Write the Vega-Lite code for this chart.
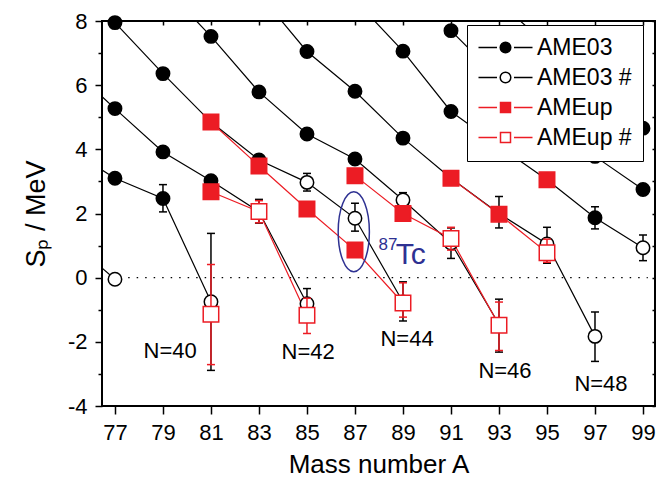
{
  "$schema": "https://vega.github.io/schema/vega-lite/v6.json",
  "autosize": {"type": "none"},
  "width": 553,
  "height": 385,
  "padding": {"left": 102, "top": 21, "right": 2, "bottom": 72},
  "background": "white",
  "config": {
    "view": {"stroke": "black", "strokeWidth": 2},
    "axis": {"grid": false, "labelFont": "Liberation Sans", "titleFont": "Liberation Sans", "tickColor": "black", "labelColor": "black", "titleColor": "black", "tickWidth": 1.5, "domain": false, "labelOverlap": false, "titleFontWeight": "normal"},
    "legend": {"labelFont": "Liberation Sans"}
  },
  "datasets": {
    "pts": [
      {"A": 75, "Sp": 1.25, "N": 38, "src": "AME03", "cat": "AME03 #", "off": 1},
      {"A": 75, "Sp": 4.05, "N": 40, "src": "AME03", "cat": "AME03", "off": 1},
      {"A": 75, "Sp": 6.65, "N": 42, "src": "AME03", "cat": "AME03", "off": 1},
      {"A": 79, "Sp": 9.1, "N": 46, "src": "AME03", "cat": "AME03", "off": 1},
      {"A": 83, "Sp": 8.85, "N": 48, "src": "AME03", "cat": "AME03", "off": 1},
      {"A": 87, "Sp": 8.65, "N": 50, "src": "AME03", "cat": "AME03", "off": 1},
      {"A": 93, "Sp": 8.6, "N": 54, "src": "AME03", "cat": "AME03", "off": 1},
      {"A": 77, "Sp": 7.95, "N": 44, "src": "AME03", "cat": "AME03"},
      {"A": 77, "Sp": 5.27, "N": 42, "src": "AME03", "cat": "AME03"},
      {"A": 77, "Sp": 3.1, "N": 40, "src": "AME03", "cat": "AME03"},
      {"A": 77, "Sp": -0.05, "N": 38, "src": "AME03", "cat": "AME03 #", "lo": -0.2, "hi": 0.1},
      {"A": 79, "Sp": 6.36, "N": 44, "src": "AME03", "cat": "AME03"},
      {"A": 79, "Sp": 3.92, "N": 42, "src": "AME03", "cat": "AME03"},
      {"A": 79, "Sp": 2.47, "N": 40, "src": "AME03", "cat": "AME03", "lo": 2.05, "hi": 2.9},
      {"A": 81, "Sp": 7.52, "N": 46, "src": "AME03", "cat": "AME03"},
      {"A": 81, "Sp": 4.85, "N": 44, "src": "AME03", "cat": "AME03"},
      {"A": 81, "Sp": 3.02, "N": 42, "src": "AME03", "cat": "AME03"},
      {"A": 81, "Sp": -0.75, "N": 40, "src": "AME03", "cat": "AME03 #", "lo": -2.89, "hi": 1.38},
      {"A": 83, "Sp": 5.79, "N": 46, "src": "AME03", "cat": "AME03"},
      {"A": 83, "Sp": 3.67, "N": 44, "src": "AME03", "cat": "AME03"},
      {"A": 83, "Sp": 2.06, "N": 42, "src": "AME03", "cat": "AME03 #", "lo": 1.7, "hi": 2.44},
      {"A": 85, "Sp": 7.05, "N": 48, "src": "AME03", "cat": "AME03"},
      {"A": 85, "Sp": 4.48, "N": 46, "src": "AME03", "cat": "AME03"},
      {"A": 85, "Sp": 2.97, "N": 44, "src": "AME03", "cat": "AME03 #", "lo": 2.7, "hi": 3.25},
      {"A": 85, "Sp": -0.81, "N": 42, "src": "AME03", "cat": "AME03 #", "lo": -1.28, "hi": -0.34},
      {"A": 87, "Sp": 5.81, "N": 48, "src": "AME03", "cat": "AME03"},
      {"A": 87, "Sp": 3.7, "N": 46, "src": "AME03", "cat": "AME03"},
      {"A": 87, "Sp": 1.85, "N": 44, "src": "AME03", "cat": "AME03 #", "lo": 1.45, "hi": 2.32},
      {"A": 89, "Sp": 7.06, "N": 50, "src": "AME03", "cat": "AME03"},
      {"A": 89, "Sp": 4.35, "N": 48, "src": "AME03", "cat": "AME03"},
      {"A": 89, "Sp": 2.42, "N": 46, "src": "AME03", "cat": "AME03 #", "lo": 2.2, "hi": 2.65},
      {"A": 89, "Sp": -0.76, "N": 44, "src": "AME03", "cat": "AME03 #", "lo": -1.35, "hi": -0.13},
      {"A": 91, "Sp": 7.7, "N": 52, "src": "AME03", "cat": "AME03"},
      {"A": 91, "Sp": 5.18, "N": 50, "src": "AME03", "cat": "AME03"},
      {"A": 91, "Sp": 3.1, "N": 48, "src": "AME03", "cat": "AME03"},
      {"A": 91, "Sp": 1.08, "N": 46, "src": "AME03", "cat": "AME03 #", "lo": 0.6, "hi": 1.55},
      {"A": 93, "Sp": 6.2, "N": 52, "src": "AME03", "cat": "AME03"},
      {"A": 93, "Sp": 4.1, "N": 50, "src": "AME03", "cat": "AME03"},
      {"A": 93, "Sp": 2.0, "N": 48, "src": "AME03", "cat": "AME03", "lo": 1.55, "hi": 2.53},
      {"A": 93, "Sp": -1.45, "N": 46, "src": "AME03", "cat": "AME03 #", "lo": -2.32, "hi": -0.67},
      {"A": 95, "Sp": 7.25, "N": 54, "src": "AME03", "cat": "AME03"},
      {"A": 95, "Sp": 5.0, "N": 52, "src": "AME03", "cat": "AME03"},
      {"A": 95, "Sp": 3.05, "N": 50, "src": "AME03", "cat": "AME03"},
      {"A": 95, "Sp": 1.05, "N": 48, "src": "AME03", "cat": "AME03 #", "lo": 0.45, "hi": 1.57},
      {"A": 97, "Sp": 5.95, "N": 54, "src": "AME03", "cat": "AME03"},
      {"A": 97, "Sp": 3.78, "N": 52, "src": "AME03", "cat": "AME03"},
      {"A": 97, "Sp": 1.87, "N": 50, "src": "AME03", "cat": "AME03", "lo": 1.52, "hi": 2.21},
      {"A": 97, "Sp": -1.83, "N": 48, "src": "AME03", "cat": "AME03 #", "lo": -2.61, "hi": -1.07},
      {"A": 99, "Sp": 4.66, "N": 54, "src": "AME03", "cat": "AME03"},
      {"A": 99, "Sp": 2.75, "N": 52, "src": "AME03", "cat": "AME03"},
      {"A": 99, "Sp": 0.93, "N": 50, "src": "AME03", "cat": "AME03 #", "lo": 0.53, "hi": 1.33},
      {"A": 81, "Sp": 4.85, "N": 44, "src": "AMEup", "cat": "AMEup"},
      {"A": 81, "Sp": 2.68, "N": 42, "src": "AMEup", "cat": "AMEup"},
      {"A": 81, "Sp": -1.14, "N": 40, "src": "AMEup", "cat": "AMEup #", "lo": -2.71, "hi": 0.41},
      {"A": 83, "Sp": 3.48, "N": 44, "src": "AMEup", "cat": "AMEup"},
      {"A": 83, "Sp": 2.06, "N": 42, "src": "AMEup", "cat": "AMEup #", "lo": 1.71, "hi": 2.4},
      {"A": 85, "Sp": 2.14, "N": 44, "src": "AMEup", "cat": "AMEup"},
      {"A": 85, "Sp": -1.17, "N": 42, "src": "AMEup", "cat": "AMEup #", "lo": -1.74, "hi": -0.64},
      {"A": 87, "Sp": 3.18, "N": 46, "src": "AMEup", "cat": "AMEup"},
      {"A": 87, "Sp": 0.86, "N": 44, "src": "AMEup", "cat": "AMEup"},
      {"A": 89, "Sp": 2.0, "N": 46, "src": "AMEup", "cat": "AMEup"},
      {"A": 89, "Sp": -0.79, "N": 44, "src": "AMEup", "cat": "AMEup #", "lo": -1.23, "hi": -0.16},
      {"A": 91, "Sp": 3.1, "N": 48, "src": "AMEup", "cat": "AMEup"},
      {"A": 91, "Sp": 1.22, "N": 46, "src": "AMEup", "cat": "AMEup #", "lo": 0.86, "hi": 1.57},
      {"A": 93, "Sp": 1.98, "N": 48, "src": "AMEup", "cat": "AMEup"},
      {"A": 93, "Sp": -1.48, "N": 46, "src": "AMEup", "cat": "AMEup #", "lo": -2.27, "hi": -0.76},
      {"A": 95, "Sp": 3.05, "N": 50, "src": "AMEup", "cat": "AMEup"},
      {"A": 95, "Sp": 0.78, "N": 48, "src": "AMEup", "cat": "AMEup #", "lo": 0.48, "hi": 1.2}
    ],
    "zero": [{"A": 77.55, "A2": 99.2, "Sp": 0}],
    "lbl": [
      {"A": 79.3, "Sp": -2.28, "t": "N=40"},
      {"A": 85.05, "Sp": -2.32, "t": "N=42"},
      {"A": 89.17, "Sp": -1.9, "t": "N=44"},
      {"A": 93.25, "Sp": -2.92, "t": "N=46"},
      {"A": 97.25, "Sp": -3.3, "t": "N=48"}
    ],
    "tc": [
      {"A": 87.98, "Sp": 0.86, "t": "87"},
      {"A": 88.7, "Sp": 0.44, "t": "Tc"}
    ],
    "ell": [{"A": 86.95, "Sp": 1.43}]
  },
  "resolve": {"axis": {"x": "independent", "y": "independent"}},
  "layer": [
    {
      "data": {"name": "zero"},
      "mark": {"type": "rule", "color": "black", "strokeWidth": 1.4, "strokeDash": [1.5, 7]},
      "encoding": {
        "x": {"field": "A", "type": "quantitative", "scale": {"domain": [76.46, 99.5], "nice": false, "zero": false}, "axis": null},
        "x2": {"field": "A2"},
        "y": {"field": "Sp", "type": "quantitative", "scale": {"domain": [-4, 8], "nice": false, "zero": false}, "axis": null}
      }
    },
    {
      "data": {"name": "pts"},
      "transform": [{"filter": "datum.src == 'AME03'"}],
      "mark": {"type": "line", "color": "black", "strokeWidth": 1.2, "clip": true},
      "encoding": {
        "x": {"field": "A", "type": "quantitative", "scale": {"domain": [76.46, 99.5], "nice": false, "zero": false},
          "axis": {"orient": "bottom", "values": [77, 79, 81, 83, 85, 87, 89, 91, 93, 95, 97, 99], "tickSize": 8, "labelFontSize": 22, "labelPadding": 8, "title": "Mass number A", "titleFontSize": 26, "titlePadding": 8, "labelFlush": false}},
        "y": {"field": "Sp", "type": "quantitative", "scale": {"domain": [-4, 8], "nice": false, "zero": false},
          "axis": {"orient": "left", "values": [-4, -2, 0, 2, 4, 6, 8], "tickSize": 7, "labelFontSize": 22, "labelPadding": 8, "labelExpr": "datum.value < 0 ? '-' + abs(datum.value) : '' + datum.value", "title": "Sₚ / MeV", "titleFontSize": 27, "titlePadding": 17}},
        "detail": {"field": "N", "type": "nominal"}
      }
    },
    {
      "data": {"name": "pts"},
      "transform": [{"filter": "datum.src == 'AMEup'"}],
      "mark": {"type": "line", "color": "#ec1c24", "strokeWidth": 1.2, "clip": true},
      "encoding": {
        "x": {"field": "A", "type": "quantitative", "scale": {"domain": [76.46, 99.5], "nice": false, "zero": false},
          "axis": {"orient": "top", "values": [77, 79, 81, 83, 85, 87, 89, 91, 93, 95, 97, 99], "tickSize": -4, "labels": false, "title": null}},
        "y": {"field": "Sp", "type": "quantitative", "scale": {"domain": [-4, 8], "nice": false, "zero": false},
          "axis": {"orient": "right", "values": [-4, -3, -2, -1, 0, 1, 2, 3, 4, 5, 6, 7, 8], "tickSize": -3, "labels": false, "title": null}},
        "detail": {"field": "N", "type": "nominal"}
      }
    },
    {
      "data": {"name": "pts"},
      "transform": [{"filter": "datum.src == 'AME03' && isValid(datum.lo)"}],
      "mark": {"type": "rule", "color": "black", "strokeWidth": 1.5},
      "encoding": {
        "x": {"field": "A", "type": "quantitative", "scale": {"domain": [76.46, 99.5], "nice": false, "zero": false}, "axis": null},
        "y": {"field": "lo", "type": "quantitative", "scale": {"domain": [-4, 8], "nice": false, "zero": false}, "axis": null},
        "y2": {"field": "hi"}
      }
    },
    {
      "data": {"name": "pts"},
      "transform": [{"filter": "datum.src == 'AME03' && isValid(datum.lo)"}],
      "mark": {"type": "tick", "orient": "horizontal", "color": "black", "size": 8, "thickness": 1.5, "opacity": 1},
      "encoding": {
        "x": {"field": "A", "type": "quantitative", "scale": {"domain": [76.46, 99.5], "nice": false, "zero": false}, "axis": null},
        "y": {"field": "lo", "type": "quantitative", "scale": {"domain": [-4, 8], "nice": false, "zero": false}, "axis": null}
      }
    },
    {
      "data": {"name": "pts"},
      "transform": [{"filter": "datum.src == 'AME03' && isValid(datum.hi)"}],
      "mark": {"type": "tick", "orient": "horizontal", "color": "black", "size": 8, "thickness": 1.5, "opacity": 1},
      "encoding": {
        "x": {"field": "A", "type": "quantitative", "scale": {"domain": [76.46, 99.5], "nice": false, "zero": false}, "axis": null},
        "y": {"field": "hi", "type": "quantitative", "scale": {"domain": [-4, 8], "nice": false, "zero": false}, "axis": null}
      }
    },
    {
      "data": {"name": "pts"},
      "transform": [{"filter": "datum.src == 'AME03' && !datum.off"}],
      "mark": {"type": "point", "shape": "circle", "size": 180, "strokeWidth": 1.5, "opacity": 1},
      "encoding": {
        "x": {"field": "A", "type": "quantitative", "scale": {"domain": [76.46, 99.5], "nice": false, "zero": false}, "axis": null},
        "y": {"field": "Sp", "type": "quantitative", "scale": {"domain": [-4, 8], "nice": false, "zero": false},
          "axis": {"orient": "left", "values": [-3, -1, 1, 3, 5, 7], "tickSize": 4, "labels": false, "title": null}},
        "fill": {"field": "cat", "type": "nominal",
          "scale": {"domain": ["AME03", "AME03 #", "AMEup", "AMEup #"], "range": ["black", "white", "#ec1c24", "white"]}},
        "stroke": {"field": "cat", "type": "nominal",
          "scale": {"domain": ["AME03", "AME03 #", "AMEup", "AMEup #"], "range": ["black", "black", "#ec1c24", "#ec1c24"]}}
      }
    },
    {
      "data": {"name": "pts"},
      "transform": [{"filter": "datum.src == 'AMEup' && isValid(datum.lo)"}],
      "mark": {"type": "rule", "color": "#ec1c24", "strokeWidth": 1.5},
      "encoding": {
        "x": {"field": "A", "type": "quantitative", "scale": {"domain": [76.46, 99.5], "nice": false, "zero": false}, "axis": null},
        "y": {"field": "lo", "type": "quantitative", "scale": {"domain": [-4, 8], "nice": false, "zero": false}, "axis": null},
        "y2": {"field": "hi"}
      }
    },
    {
      "data": {"name": "pts"},
      "transform": [{"filter": "datum.src == 'AMEup' && isValid(datum.lo)"}],
      "mark": {"type": "tick", "orient": "horizontal", "color": "#ec1c24", "size": 8, "thickness": 1.5, "opacity": 1},
      "encoding": {
        "x": {"field": "A", "type": "quantitative", "scale": {"domain": [76.46, 99.5], "nice": false, "zero": false}, "axis": null},
        "y": {"field": "lo", "type": "quantitative", "scale": {"domain": [-4, 8], "nice": false, "zero": false}, "axis": null}
      }
    },
    {
      "data": {"name": "pts"},
      "transform": [{"filter": "datum.src == 'AMEup' && isValid(datum.hi)"}],
      "mark": {"type": "tick", "orient": "horizontal", "color": "#ec1c24", "size": 8, "thickness": 1.5, "opacity": 1},
      "encoding": {
        "x": {"field": "A", "type": "quantitative", "scale": {"domain": [76.46, 99.5], "nice": false, "zero": false}, "axis": null},
        "y": {"field": "hi", "type": "quantitative", "scale": {"domain": [-4, 8], "nice": false, "zero": false}, "axis": null}
      }
    },
    {
      "data": {"name": "pts"},
      "transform": [{"filter": "datum.src == 'AMEup' && !datum.off"}],
      "mark": {"type": "point", "shape": "square", "size": 240, "strokeWidth": 1.5, "opacity": 1},
      "encoding": {
        "x": {"field": "A", "type": "quantitative", "scale": {"domain": [76.46, 99.5], "nice": false, "zero": false}, "axis": null},
        "y": {"field": "Sp", "type": "quantitative", "scale": {"domain": [-4, 8], "nice": false, "zero": false}, "axis": null},
        "fill": {"field": "cat", "type": "nominal",
          "scale": {"domain": ["AME03", "AME03 #", "AMEup", "AMEup #"], "range": ["black", "white", "#ec1c24", "white"]}},
        "stroke": {"field": "cat", "type": "nominal",
          "scale": {"domain": ["AME03", "AME03 #", "AMEup", "AMEup #"], "range": ["black", "black", "#ec1c24", "#ec1c24"]}}
      }
    },
    {
      "data": {"name": "pts"},
      "transform": [{"filter": "false"}],
      "mark": {"type": "point", "strokeWidth": 1.5, "opacity": 1},
      "encoding": {
        "x": {"field": "A", "type": "quantitative", "scale": {"domain": [76.46, 99.5], "nice": false, "zero": false}, "axis": null},
        "y": {"field": "Sp", "type": "quantitative", "scale": {"domain": [-4, 8], "nice": false, "zero": false}, "axis": null},
        "fill": {"field": "cat", "type": "nominal",
          "scale": {"domain": ["AME03", "AME03 #", "AMEup", "AMEup #"], "range": ["black", "white", "#ec1c24", "white"]},
          "legend": {"title": null, "orient": "none", "legendX": 365, "legendY": 4, "direction": "vertical", "fillColor": "white", "strokeColor": "black", "padding": 11, "labelFontSize": 23, "symbolSize": 400, "symbolStrokeWidth": 1.5, "symbolOpacity": 1, "symbolOffset": 16, "labelOffset": 20, "rowPadding": 6}},
        "stroke": {"field": "cat", "type": "nominal",
          "scale": {"domain": ["AME03", "AME03 #", "AMEup", "AMEup #"], "range": ["black", "black", "#ec1c24", "#ec1c24"]}},
        "shape": {"field": "cat", "type": "nominal",
          "scale": {"domain": ["AME03", "AME03 #", "AMEup", "AMEup #"], "range": [
            "M-2.7,0H-0.85M0.85,0H2.7M-0.53,0A0.53,0.53,0,1,0,0.53,0A0.53,0.53,0,1,0,-0.53,0Z",
            "M-2.7,0H-0.85M0.85,0H2.7M-0.53,0A0.53,0.53,0,1,0,0.53,0A0.53,0.53,0,1,0,-0.53,0Z",
            "M-2.7,0H-0.85M0.85,0H2.7M-0.5,-0.5H0.5V0.5H-0.5Z",
            "M-2.7,0H-0.85M0.85,0H2.7M-0.5,-0.5H0.5V0.5H-0.5Z"]}}
      }
    },
    {
      "data": {"name": "ell"},
      "mark": {"type": "point", "filled": false, "shape": "M0,-1A0.39,1,0,1,1,0,1A0.39,1,0,1,1,0,-1Z", "size": 6400, "color": "#2e3192", "strokeWidth": 1.5, "opacity": 1},
      "encoding": {
        "x": {"field": "A", "type": "quantitative", "scale": {"domain": [76.46, 99.5], "nice": false, "zero": false}, "axis": null},
        "y": {"field": "Sp", "type": "quantitative", "scale": {"domain": [-4, 8], "nice": false, "zero": false}, "axis": null}
      }
    },
    {
      "data": {"name": "lbl"},
      "mark": {"type": "text", "font": "Liberation Sans", "fontSize": 22, "color": "black", "align": "center", "baseline": "middle"},
      "encoding": {
        "x": {"field": "A", "type": "quantitative", "scale": {"domain": [76.46, 99.5], "nice": false, "zero": false}, "axis": null},
        "y": {"field": "Sp", "type": "quantitative", "scale": {"domain": [-4, 8], "nice": false, "zero": false}, "axis": null},
        "text": {"field": "t"}
      }
    },
    {
      "data": {"name": "tc"},
      "transform": [{"filter": "datum.t == '87'"}],
      "mark": {"type": "text", "font": "Liberation Sans", "fontSize": 17, "color": "#2e3192", "align": "left", "baseline": "alphabetic"},
      "encoding": {
        "x": {"field": "A", "type": "quantitative", "scale": {"domain": [76.46, 99.5], "nice": false, "zero": false}, "axis": null},
        "y": {"field": "Sp", "type": "quantitative", "scale": {"domain": [-4, 8], "nice": false, "zero": false}, "axis": null},
        "text": {"field": "t"}
      }
    },
    {
      "data": {"name": "tc"},
      "transform": [{"filter": "datum.t == 'Tc'"}],
      "mark": {"type": "text", "font": "Liberation Sans", "fontSize": 30, "color": "#2e3192", "align": "left", "baseline": "alphabetic"},
      "encoding": {
        "x": {"field": "A", "type": "quantitative", "scale": {"domain": [76.46, 99.5], "nice": false, "zero": false}, "axis": null},
        "y": {"field": "Sp", "type": "quantitative", "scale": {"domain": [-4, 8], "nice": false, "zero": false}, "axis": null},
        "text": {"field": "t"}
      }
    }
  ]
}
